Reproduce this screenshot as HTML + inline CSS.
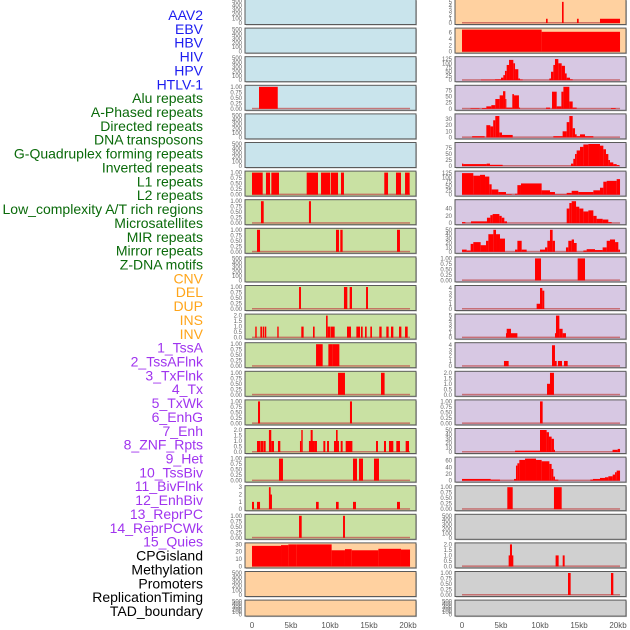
<!DOCTYPE html>
<html><head><meta charset="utf-8">
<style>
html,body{margin:0;padding:0;background:#fff;width:630px;height:630px;overflow:hidden}
svg{display:block;font-family:"Liberation Sans",sans-serif}
</style></head>
<body>
<svg id="chart" width="630" height="630" viewBox="0 0 630 630"></svg>
<script>
const trackLabels = ["AAV2","EBV","HBV","HIV","HPV","HTLV-1","Alu repeats","A-Phased repeats","Directed repeats","DNA transposons","G-Quadruplex forming repeats","Inverted repeats","L1 repeats","L2 repeats","Low_complexity A/T rich regions","Microsatellites","MIR repeats","Mirror repeats","Z-DNA motifs","CNV","DEL","DUP","INS","INV","1_TssA","2_TssAFlnk","3_TxFlnk","4_Tx","5_TxWk","6_EnhG","7_Enh","8_ZNF_Rpts","9_Het","10_TssBiv","11_BivFlnk","12_EnhBiv","13_ReprPC","14_ReprPCWk","15_Quies","CPGisland","Methylation","Promoters","ReplicationTiming","TAD_boundary"];
const labelGroups = [6,13,5,15,5];
const xTickValues = [0,5,10,15,20];
const xTickLabels = ["0","5kb","10kb","15kb","20kb"];
const leftBg = ["b","b","b","b","b","b","g","g","g","g","g","g","g","g","g","g","g","g","g","o","o","o"];
const rightBg = ["o","o","p","p","p","p","p","p","p","p","p","p","p","p","p","p","p","y","y","y","y","y"];
const leftMax = [0,0,0,1,0,0,1,1,1,0,1,2,1,1,1,2,1,3,1,30,0,0];
const rightMax = [5.2,7,130,90,36,92,128,60,50,1,4.2,5,4.2,2,1,50,66,1,0,2,1,0];
const leftTicks = [null,null,null,[0,.25,.5,.75,1],null,null,[0,.25,.5,.75,1],[0,.25,.5,.75,1],[0,.25,.5,.75,1],null,[0,.25,.5,.75,1],[0,.5,1,1.5,2],[0,.25,.5,.75,1],[0,.25,.5,.75,1],[0,.25,.5,.75,1],[0,.5,1,1.5,2],[0,.25,.5,.75,1],[0,1,2,3],[0,.25,.5,.75,1],[0,10,20,30],null,null];
const rightTicks = [[0,1,2,3,4,5],[0,2,4,6],[0,25,50,75,100,125],[0,25,50,75],[0,10,20,30],[0,25,50,75],[0,25,50,75,100,125],[0,20,40],[0,10,20,30,40,50],[0,.25,.5,.75,1],[0,1,2,3,4],[0,1,2,3,4,5],[0,1,2,3,4],[0,.5,1,1.5,2],[0,.25,.5,.75,1],[0,10,20,30,40,50],[0,20,40,60],[0,.25,.5,.75,1],null,[0,.5,1,1.5,2],[0,.25,.5,.75,1],null];
const leftSegments = [
 [],[],[],
 [[0.9,3.3,1]],
 [],[],
 [[0,1.37,1],[1.79,2.31,1],[2.48,3.46,1],[7.01,8.46,1],[8.85,10.0,1],[10.09,11.03,1],[11.41,11.79,1],[16.96,17.44,1],[18.46,19.1,1],[19.62,20.21,1]],
 [[1.15,1.5,1],[7.3,7.56,1]],
 [[0.64,1.03,1],[10.77,11.15,1],[11.32,11.62,1],[18.59,18.97,1]],
 [],
 [[6.03,6.28,1],[11.79,12.22,1],[12.52,12.82,1],[14.62,14.87,1]],
 [[0.42,0.6,1],[1.07,1.28,1],[1.37,1.54,1],[1.62,1.83,1],[3.24,3.42,1],[6.32,6.62,1],[7.82,8.03,1],[9.49,9.7,2],[9.7,10.04,1],[10.09,10.6,1],[12.18,12.69,1],[13.38,13.85,1],[13.97,14.19,1],[14.49,14.7,1],[15.17,15.38,1],[16.32,16.62,1],[17.22,17.52,1],[17.82,18.12,1],[18.85,19.15,1],[19.62,19.96,1]],
 [[8.21,9.06,1],[9.79,10.34,1],[10.34,11.2,1]],
 [[11.03,11.92,1],[16.54,17.0,1]],
 [[0.77,1.03,1],[12.56,12.82,1]],
 [[0.64,1.03,1],[1.07,1.41,1],[1.45,1.75,1],[2.17,2.47,2],[2.47,2.82,1],[3.33,3.63,1],[6.15,6.32,1],[6.32,6.5,2],[7.3,8.07,1],[7.52,7.78,2],[8.07,8.33,1],[9.15,9.4,1],[9.62,9.87,1],[10.51,11.15,1],[10.77,10.98,2],[11.37,11.62,1],[12.01,12.87,1],[15.9,16.15,1],[16.92,17.18,1],[17.56,18.12,1],[18.5,18.97,1],[19.7,20.13,1]],
 [[3.46,3.97,1],[12.95,13.46,1],[13.72,14.23,1],[15.64,16.28,1]],
 [[0,0.26,1],[0.64,1.03,1],[2.17,2.39,3],[2.3,2.56,2],[8.21,8.55,1],[10.77,11.11,1],[12.95,13.33,1],[18.59,18.97,1]],
 [[6.03,6.37,1],[11.67,11.92,1]],
 [[0,3.72,28],[3.72,4.66,29],[4.66,5.73,30],[5.73,10.21,30],[10.21,11.92,22],[11.92,12.78,23.5],[12.78,16.2,22],[16.2,19.1,24],[19.1,20.26,23]],
 [],[]
];
const rightSegments = [
 [[10.77,10.98,1],[12.82,13.03,5],[14.74,14.96,1],[17.69,20.26,1]],
 [[0,10.21,7],[10.21,20.26,6.3]],
 [[2.44,4.23,3],[4.23,5.0,5],[5.0,5.3,15],[5.3,5.51,30],[5.51,5.73,55],[5.73,6.03,90],[6.03,6.58,120],[6.58,6.8,100],[6.8,7.22,65],[7.22,7.44,10],[7.44,7.78,4],[11.2,11.41,10],[11.41,11.71,50],[11.71,11.92,90],[11.92,12.35,125],[12.35,12.78,100],[12.78,13.2,85],[13.2,13.42,40],[13.42,13.85,15],[13.85,14.19,5]],
 [[1.09,2.24,2],[2.56,3.12,3],[3.12,3.76,10],[3.76,4.27,15],[4.27,4.83,40],[4.83,5.26,55],[5.26,5.56,72],[5.56,5.69,40],[5.69,6.45,5],[6.45,6.67,60],[6.67,7.3,55],[7.3,7.44,5],[10.77,11.28,5],[11.54,12.14,70],[12.14,12.74,10],[12.74,13.0,70],[13.0,13.76,90],[13.76,14.19,30],[14.19,14.7,5],[19.1,19.7,3]],
 [[1.3,2.9,2],[3.12,3.63,20],[3.63,4.0,18],[4.0,4.27,28],[4.27,4.79,35],[4.79,5.13,8],[5.13,6.5,4],[11.71,12.9,2],[12.9,13.42,10],[13.42,13.76,25],[13.76,14.19,35],[14.19,14.49,15],[14.49,14.7,5],[14.7,15.13,2],[15.13,15.77,5],[15.77,16.84,2]],
 [[0,0.17,10],[0.17,3.16,8],[3.16,3.59,10],[3.59,5.21,5],[13.97,14.27,10],[14.27,14.49,30],[14.49,14.7,50],[14.7,15.13,65],[15.13,15.56,80],[15.56,16.2,90],[16.2,17.69,92],[17.69,18.12,85],[18.12,18.46,70],[18.46,18.76,50],[18.76,18.97,25],[18.97,19.4,15],[19.4,19.83,8],[19.83,20.13,4]],
 [[0,1.45,125],[1.45,2.31,110],[2.31,2.95,115],[2.95,3.5,105],[3.5,3.8,60],[3.8,4.66,30],[4.66,5.64,15],[5.64,6.37,3],[6.8,7.1,5],[7.1,7.56,55],[7.56,10.21,65],[10.21,11.28,25],[11.28,11.92,15],[11.92,13.42,2],[13.42,14.06,10],[14.06,14.91,22],[14.91,16.84,15],[16.84,17.69,25],[17.69,18.12,40],[18.12,18.55,75],[18.55,19.83,80],[19.83,20.26,90]],
 [[0,0.43,3],[1.15,3.2,5],[3.2,3.63,15],[3.63,3.93,22],[3.93,4.79,25],[4.79,5.09,20],[5.09,5.43,15],[5.43,5.77,5],[13.42,13.76,40],[13.76,14.06,55],[14.06,14.62,60],[14.62,15.04,45],[15.04,15.56,40],[15.56,16.2,32],[16.2,16.84,35],[16.84,17.26,20],[17.26,18.03,12],[18.03,18.76,10],[18.76,19.19,3]],
 [[0,0.6,5],[0.6,1.11,3],[1.11,1.45,18],[1.45,2.39,22],[2.39,3.08,15],[3.08,3.38,25],[3.38,4.02,40],[4.02,4.36,50],[4.36,4.87,40],[4.87,5.51,30],[6.8,7.1,5],[7.1,7.65,25],[7.65,8.29,5],[10.0,10.64,5],[10.64,10.94,10],[10.94,11.28,25],[11.28,11.62,50],[11.62,11.92,25],[13.33,13.63,10],[13.63,14.06,25],[14.06,14.36,28],[14.36,14.7,20],[15.56,15.98,3],[15.98,17.05,6],[17.05,18.03,4],[18.03,18.55,10],[18.55,18.97,25],[18.97,19.62,28],[19.62,20.04,22],[20.04,20.26,5]],
 [[9.36,10.13,1],[14.83,15.77,1]],
 [[9.57,10.0,1],[10.0,10.3,4],[10.3,10.55,3.5]],
 [[5.64,5.94,1],[5.73,6.28,2],[6.28,7.1,1],[11.92,12.14,1],[12.05,12.48,5],[12.48,12.9,2],[12.9,13.33,1]],
 [[5.38,5.98,1],[11.54,11.92,4],[11.92,12.14,1],[12.3,12.82,1],[13.08,13.55,1]],
 [[10.9,11.28,1],[11.28,11.79,2]],
 [[10.0,10.34,1]],
 [[6.8,10.0,3],[10.0,10.85,50],[10.85,11.15,45],[11.15,11.49,35],[11.49,11.79,30],[11.79,11.92,5],[19.3,19.96,5],[19.96,20.26,7]],
 [[0,3.68,5],[3.68,4.87,3],[6.67,6.92,5],[6.92,7.1,45],[7.1,7.35,52],[7.35,8.08,62],[8.08,9.49,66],[9.49,10.21,62],[10.21,11.2,58],[11.2,11.49,50],[11.49,11.71,35],[11.71,11.92,12],[11.92,12.35,3],[16.45,16.79,3],[16.79,17.69,5],[17.69,18.33,8],[18.33,18.76,10],[18.76,19.32,13],[19.32,19.62,18],[19.62,19.83,25],[19.83,20.26,30]],
 [[5.81,6.5,1],[11.79,12.78,1]],
 [],
 [[5.98,6.58,1],[6.15,6.41,2],[12.0,12.39,1],[12.91,13.16,1]],
 [[13.59,13.93,1],[19.1,19.4,1]],
 []
];

const svg = document.getElementById('chart');
const NS = 'http://www.w3.org/2000/svg';
const bgColors = {b:'#c9e4ec', g:'#c9e1a3', o:'#ffd1a0', p:'#d7c8e3', y:'#d0d0d0'};
const groupColors = ['#1c1cf0','#0a6a0a','#ffa51a','#a034ef','#000000'];
const KB = 7.8;
const leftX0 = 252, rightX0 = 462;
function xScale(x0, kb){ return x0 + kb*KB; }
function rowTop(i){ return -0.5 + i*28.6; }
function rowH(i){ return i===21 ? 16 : 25; }
function yScale(i, v, max){ const t=rowTop(i), h=rowH(i); return t+h-1.5 - v/max*(h-3); }
function mk(tag, attrs, parent){ const e=document.createElementNS(NS,tag); for(const k in attrs) e.setAttribute(k, attrs[k]); (parent||svg).appendChild(e); return e; }
function fmt(v, ticks){ const m=ticks[ticks.length-1]; if(m===1) return v.toFixed(2); if(m===2) return v.toFixed(1); return String(v); }

// labels
let li=0;
labelGroups.forEach((n,g)=>{
  for(let k=0;k<n;k++){
    const t = mk('text',{x:203,y:15+li*13.86+5,'text-anchor':'end','font-size':14,fill:groupColors[g]});
    t.textContent = trackLabels[li];
    
    
    li++;
  }
});

function drawPanel(side, i){
  const x0 = side==='left'?leftX0:rightX0;
  const px = x0-7, pw = 171;
  const top=rowTop(i), h=rowH(i);
  const bg = (side==='left'?leftBg:rightBg)[i];
  const g = mk('g',{});
  
  
  mk('rect',{x:px+1,y:top+1,width:pw,height:h,fill:'#9a9a9a',opacity:0.6},g);
  mk('rect',{x:px,y:top,width:pw,height:h,fill:bgColors[bg],stroke:'#5a5a5a','stroke-width':1},g);
  const maxv = (side==='left'?leftMax:rightMax)[i];
  let ticks = (side==='left'?leftTicks:rightTicks)[i];
  const segs = (side==='left'?leftSegments:rightSegments)[i];
  const ymax = maxv || 500;
  if(!ticks) ticks=[0,100,200,300,400,500];
  ticks.forEach(v=>{
    const t=mk('text',{x:px-3,y:yScale(i,v,ymax)+2,'text-anchor':'end','font-size':6,fill:'#666'},g);
    t.textContent = maxv? fmt(v,ticks) : String(v);
    
    
  });
  if(segs.length){
    mk('rect',{x:xScale(x0,0),y:yScale(i,0,ymax)-1,width:20.26*KB,height:1.5,fill:'#c04848',opacity:0.7},g);
    segs.forEach(s=>{
      const y1=yScale(i,s[2],ymax), y0=yScale(i,0,ymax);
      const r=mk('rect',{x:xScale(x0,s[0]),y:y1,width:Math.max(0.8,(s[1]-s[0])*KB),height:y0-y1,fill:'#ff0000'},g);
      
      
    });
  }
}
for(let i=0;i<22;i++){ drawPanel('left',i); drawPanel('right',i); }

[leftX0,rightX0].forEach(x0=>{
  xTickValues.forEach((v,k)=>{
    const t=mk('text',{x:xScale(x0,v),y:628,'text-anchor':'middle','font-size':8,fill:'#555'});
    t.textContent = xTickLabels[k];
    
    
  });
});
</script>
</body></html>
